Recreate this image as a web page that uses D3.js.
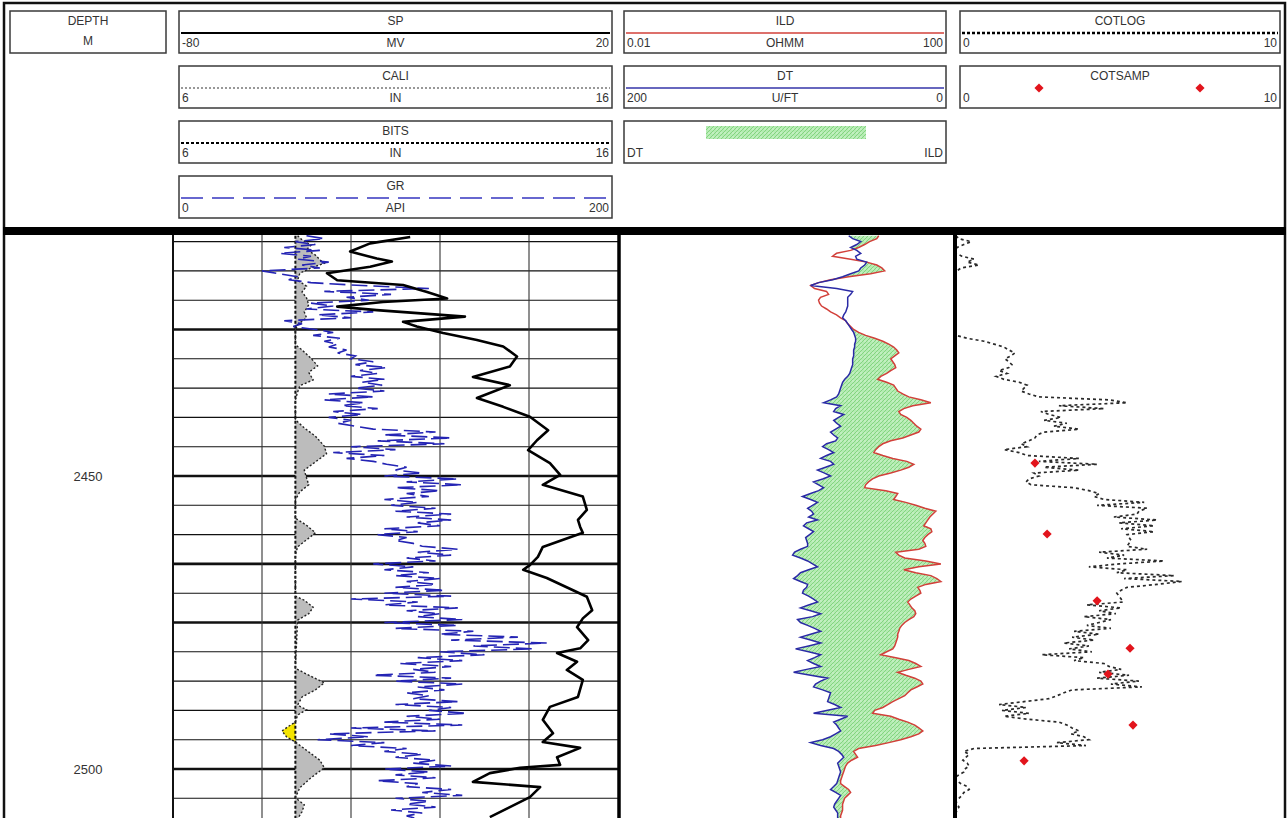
<!DOCTYPE html>
<html>
<head>
<meta charset="utf-8">
<script src="https://cdnjs.cloudflare.com/ajax/libs/d3/7.8.5/d3.min.js"></script>
<style>
body { margin:0; background:#fff; }
svg { display:block; }
text { font-family:"Liberation Sans", Arial, sans-serif; font-size:12px; fill:#333; }
</style>
</head>
<body>
<script>
// ---- curve scales (header) ----
var hdrNames = ["SP", "CALI", "BITS", "GR", "ILD", "DT", "COTLOG", "COTSAMP"];
var hdrUnits = ["MV", "IN", "IN", "API", "OHMM", "U/FT", "", ""];
var hdrLow   = ["-80", "6", "6", "0", "0.01", "200", "0", "0"];
var hdrHigh  = ["20", "16", "16", "200", "100", "0", "10", "10"];

var spScale = [-80, 20], caliScale = [6, 16], grScale = [0, 200];
var ildScale = [0.01, 100], dtScale = [200, 0], cotScale = [0, 10];

var depthLabels = [2450, 2500];
var heavyGrid = [2425, 2450, 2465, 2475, 2500];

// ---- log data ----
// SP (depth, mV)
var spLog = [[2409.2,-26.7],[2410.3,-35.7],[2411.7,-40.2],[2412.9,-34.2],[2413.4,-30.8],[2414.3,-35.7],[2415.4,-45.4],
 [2416.6,-43.1],[2417.4,-28.3],[2418.6,-22.9],[2419.7,-18.4],[2420.3,-32.8],[2421.1,-43.1],[2421.7,-34.2],[2422.8,-14.4],
 [2423.7,-28.3],[2424.5,-25.2],[2425.6,-19.3],[2426.8,-11.7],[2427.9,-5.8],[2429.6,-2.7],[2431.3,-4.3],[2433.1,-12.6],
 [2434.5,-4.3],[2436.7,-11.7],[2438.2,-5.8],[2439.9,0.2],[2442.2,4.3],[2443.9,1.8],[2445.6,-0.2],[2447.8,4.7],[2449.8,7.0],
 [2451.5,3.1],[2453.5,12.1],[2455.8,13.0],[2457.5,11.0],[2458.7,11.5],[2459.7,12.1],[2462.1,3.1],[2463.8,2.0],[2465.2,0.2],
 [2466.0,-1.3],[2467.4,4.0],[2469.5,9.9],[2470.6,13.0],[2472.9,14.2],[2474.3,12.1],[2475.8,10.8],[2478.0,13.3],[2479.4,11.5],
 [2480.2,6.3],[2481.7,10.8],[2483.1,8.5],[2484.8,12.1],[2487.7,11.0],[2489.4,4.7],[2491.6,3.1],[2493.9,5.4],[2495.4,3.1],
 [2496.4,11.5],[2498.0,6.3],[2499.3,7.0],[2499.8,-2.0],[2500.7,-8.8],[2502.2,-12.6],[2503.1,2.5],[2504.8,0.2],[2506.5,-4.3],
 [2508.2,-8.8]];

// CALI (depth, in)
var caliLog = [[2409.0,8.8],[2409.7,8.9],[2410.6,9.1],[2411.4,9.0],[2412.3,9.2],[2413.1,9.3],[2413.7,9.4],[2414.5,9.1],
 [2415.4,8.85],[2416.6,8.8],[2417.6,9.0],[2418.6,8.9],[2419.6,9.0],[2420.8,9.05],[2422.0,8.95],[2423.0,9.0],[2424.2,8.8],
 [2425.1,8.75],[2427.6,8.75],[2428.5,8.9],[2429.9,9.1],[2431.2,9.25],[2432.3,9.05],[2433.6,9.15],[2434.6,8.85],[2435.7,8.8],
 [2437.0,8.75],[2440.4,8.75],[2441.8,8.95],[2443.2,9.2],[2444.9,9.4],[2446.2,9.45],[2447.6,9.2],[2449.0,8.95],[2450.3,9.0],
 [2451.5,9.05],[2452.7,8.85],[2454.1,8.75],[2457.2,8.75],[2458.4,9.0],[2459.7,9.2],[2460.9,9.0],[2462.1,8.8],[2463.5,8.75],
 [2470.5,8.75],[2471.2,8.95],[2472.4,9.15],[2473.5,9.05],[2474.6,8.8],[2482.8,8.75],[2483.8,9.0],[2485.3,9.4],[2486.5,9.2],
 [2487.7,8.9],[2489.1,8.8],[2489.9,9.0],[2490.8,8.8],[2492.0,8.75],[2492.7,8.6],[2493.5,8.45],[2494.5,8.55],[2495.4,8.75],
 [2496.8,9.0],[2498.5,9.3],[2499.8,9.4],[2501.5,9.1],[2503.2,8.85],[2504.9,8.75],[2506.1,8.95],[2507.3,8.9],[2508.5,8.8]];

// BITS (depth, in)
var bitsLog = [[2409.0,8.75],[2508.5,8.75]];

// regularly sampled logs: first depth and sample step (m)
var sampleTop = 2409.0, sampleStep = 0.5;

var grLog = [
 60,68,55,64,50,66,48,62,56,70,  58,66,40,48,56,52,62,85,115,68,
 98,78,88,62,72,60,90,65,80,50,  58,54,64,72,63,75,68,74,70,78,
 74,82,80,90,82,96,84,92,80,95,  85,94,82,95,70,90,68,86,76,92,
 72,85,70,80,74,82,90,118,95,125, 92,122,80,100,72,95,78,90,96,105,
 100,112,95,128,105,130,100,120,105,115, 95,110,98,118,100,125,105,125,110,120,
 95,110,92,105,100,108,112,128,110,125, 105,118,90,108,95,115,100,120,105,118,
 100,122,95,125,80,110,95,128,105,120, 110,130,95,128,100,135,120,155,125,168,
 135,162,120,140,110,130,102,125,108,118, 90,125,100,130,110,122,105,115,108,128,
 100,125,115,132,105,120,95,130,80,118, 70,88,65,95,80,105,95,112,100,118,
 108,125,95,115,100,118,92,110,105,125, 112,130,100,115,105,118,98,112,105,110];

var ildLog = [
 13.3,12.6,10.3,8.98,7.59,6.07,4.10,3.67,6.07,9.5,
 12.6,14.5,15.7,10.6,5.74,3.47,2.48,1.99,2.22,3.10,
 3.28,2.62,2.48,2.55,2.70,3.10,3.47,4.10,4.59,5.28,
 5.58,6.07,6.60,7.59,9.24,11.9,14.9,17.6,20.2,22.0,
 23.3,20.8,18.6,19.7,20.8,21.4,18.6,16.6,14.1,12.9,
 16.6,20.2,21.4,22.6,26.0,30.8,43.1,57.0,34.4,26.8,
 23.3,24.6,29.1,32.6,35.4,38.5,43.1,40.7,32.6,26.0,
 18.6,14.9,13.3,12.2,11.6,14.9,19.7,29.1,35.4,30.8,
 24.6,18.6,13.3,11.2,10.0,9.24,8.98,16.2,22.6,21.4,
 20.2,28.3,37.4,48.2,65.5,60.3,55.4,52.4,49.5,46.8,
 57.0,58.6,52.4,48.2,45.5,48.2,49.5,40.7,21.4,23.3,
 27.5,49.5,75.4,40.7,26.8,37.4,57.0,67.4,75.4,49.5,
 39.6,41.9,43.1,37.4,32.6,29.9,31.7,33.5,36.4,37.4,
 35.4,30.8,27.5,25.3,23.9,23.3,22.6,22.6,22.0,21.4,
 20.8,19.7,16.6,14.1,21.4,30.8,37.4,43.1,30.8,22.6,
 28.3,36.4,43.1,45.5,38.5,32.6,29.9,27.5,23.3,19.7,
 17.1,14.9,11.9,11.2,18.6,23.3,29.9,36.4,40.7,45.5,
 40.7,32.6,24.6,17.6,12.2,7.59,6.60,6.98,7.38,6.24,
 5.58,5.28,5.13,4.99,4.85,4.72,4.59,4.59,5.13,5.74,
 6.07,5.58,5.13,4.99,4.85,4.85,4.85,4.72,4.59,4.59];

var dtLog = [
 62.0,59.6,54.7,57.1,60.8,57.1,54.7,57.8,57.1,51.1,
 52.3,54.7,55.9,60.8,65.7,71.7,80.2,85.1,69.3,59.6,
 60.8,62.6,62.6,62.6,62.6,63.2,63.8,65.0,65.7,63.8,
 62.6,61.4,60.2,59.0,58.4,57.8,57.8,58.4,58.4,59.0,
 59.0,59.0,59.6,59.6,59.6,60.2,60.8,61.4,62.6,64.4,
 65.7,66.3,66.9,67.5,68.1,69.3,73.0,77.2,66.9,69.9,
 71.1,65.0,68.1,71.1,69.3,66.9,69.9,73.0,71.1,68.7,
 69.9,75.4,77.8,74.2,71.1,75.4,79.0,73.0,71.1,76.0,
 80.9,76.6,73.0,77.8,83.3,80.2,77.2,80.2,85.1,90.0,
 85.1,80.9,83.9,86.9,84.5,83.3,86.3,80.9,87.5,89.4,
 86.3,83.3,85.7,88.1,87.5,86.9,86.9,91.2,94.8,96.0,
 91.2,86.9,83.9,80.9,86.3,91.2,93.0,95.4,91.2,86.9,
 87.5,89.4,90.0,86.3,83.3,80.9,86.3,91.2,85.1,79.0,
 83.9,93.0,91.2,86.9,82.7,79.0,85.1,91.2,85.1,79.0,
 86.3,94.2,86.3,79.0,82.7,86.9,83.3,79.0,87.5,95.4,
 85.1,74.8,79.0,82.1,83.3,77.8,73.0,73.6,74.2,74.8,
 70.5,66.9,75.4,83.3,62.6,66.9,71.1,69.3,68.1,66.9,
 69.9,73.0,77.8,85.1,79.0,71.1,68.1,66.3,65.0,66.9,
 68.7,68.1,67.5,66.9,67.5,68.1,68.7,69.3,71.1,73.0,
 69.9,66.9,68.1,69.3,70.5,71.1,69.9,68.7,68.7,68.7];

var cotlogLog = [
 0.06,0.15,0.52,0.30,0.09,0.06,0.06,0.24,0.61,0.40,
 0.76,0.21,0.09,0.03,0,0,0,0,0,0,
 0,0,0,0,0,0,0,0,0,0,
 0,0,0,0,0.06,0.40,0.91,1.22,1.52,1.67,
 1.85,1.73,1.55,1.67,1.76,1.67,1.37,1.61,1.28,1.52,
 1.98,2.22,2.13,2.04,2.28,2.58,4.71,5.26,3.19,4.56,
 2.64,2.89,3.25,2.74,3.43,3.04,3.80,2.74,2.52,2.46,
 2.28,2.04,2.22,1.52,1.98,2.22,3.80,2.58,4.35,2.74,
 3.80,2.43,2.58,2.28,2.19,2.34,3.65,4.10,4.41,4.26,
 4.56,5.78,4.35,5.87,5.62,5.56,4.86,6.17,5.02,6.08,
 5.08,6.08,5.26,5.32,5.38,5.32,5.26,5.87,4.41,5.17,
 4.65,6.38,5.02,4.10,5.26,4.95,6.69,5.17,6.93,6.17,
 5.26,5.08,4.95,5.02,5.08,5.14,4.04,5.08,4.41,4.92,
 3.95,4.77,4.41,4.04,4.77,3.65,4.41,3.59,4.26,3.34,
 4.10,3.50,4.19,2.67,3.95,3.65,4.56,4.71,5.08,4.41,
 5.32,4.35,5.62,4.77,5.71,3.59,3.34,3.13,2.89,2.13,
 1.37,2.19,1.46,2.28,1.52,2.22,3.19,3.43,3.59,3.80,
 3.56,3.95,4.10,3.13,4.01,0.61,0.30,0.46,0.36,0.27,
 0.40,0.46,0.33,0.30,0.15,0,0.09,0.21,0.40,0.46,
 0.30,0.24,0.15,0.06,0.09,0.15,0.09,0.06,0.03,0.03];

// COTSAMP core samples (depth, value)
var cotsampLog = [[2447.8,2.43],[2459.9,2.80],[2471.3,4.32],[2479.4,5.32],[2483.8,4.65],[2492.5,5.41],[2498.6,2.10]];

// ---- page ----
var W = 1288, H = 818;
var svg = d3.select("body").append("svg").attr("width", W).attr("height", H);

var defs = svg.append("defs");
var pat = defs.append("pattern").attr("id", "greenHatch")
	.attr("patternUnits", "userSpaceOnUse").attr("width", 4).attr("height", 4);
pat.append("rect").attr("width", 4).attr("height", 4).attr("fill", "#b4ecb2");
pat.append("path").attr("d", "M-1,1L1,-1M0,4L4,0M3,5L5,3")
	.attr("stroke", "#7fd17b").attr("stroke-width", 0.9);
pat.append("rect").attr("x", 0.5).attr("y", 0.5).attr("width", 1).attr("height", 1).attr("fill", "#ecfbea");

var plotTop = 235, plotBot = 818;
var trk1 = [173, 618], trk2 = [621, 951], trk3 = [955, 1284];

var y = d3.scaleLinear().domain([2450, 2500]).range([476, 769]);

var xSP = d3.scaleLinear().domain(spScale).range(trk1);
var xCALI = d3.scaleLinear().domain(caliScale).range(trk1);
var xGR = d3.scaleLinear().domain(grScale).range(trk1);
var xILD = d3.scaleLog().domain(ildScale).range(trk2);
var xDT = d3.scaleLinear().domain(dtScale).range(trk2);
var xCOT = d3.scaleLinear().domain(cotScale).range(trk3);

function depthAt(i) { return sampleTop + i * sampleStep; }

function clipFor(id, t) {
	defs.append("clipPath").attr("id", id).append("rect")
		.attr("x", t[0]).attr("y", plotTop).attr("width", t[1] - t[0]).attr("height", plotBot - plotTop);
	return svg.append("g").attr("clip-path", "url(#" + id + ")");
}

// ---- track 1: grid + SP / CALI / BITS / GR ----
var g1 = clipFor("c1", trk1);
var gridDepths = d3.range(2410, 2510, 5);
g1.selectAll(".hgrid").data(gridDepths).enter().append("line")
	.attr("x1", trk1[0]).attr("x2", trk1[1])
	.attr("y1", function(d){return y(d)}).attr("y2", function(d){return y(d)})
	.attr("stroke", "#111")
	.attr("stroke-width", function(d){return heavyGrid.indexOf(d) >= 0 ? 2.6 : 1.1});
g1.selectAll(".vgrid").data(d3.range(1, 5)).enter().append("line")
	.attr("x1", function(i){return trk1[0] + i * (trk1[1] - trk1[0]) / 5})
	.attr("x2", function(i){return trk1[0] + i * (trk1[1] - trk1[0]) / 5})
	.attr("y1", plotTop).attr("y2", plotBot)
	.attr("stroke", "#333").attr("stroke-width", 1.1);

var bitSize = bitsLog[0][1];
var caliWash = d3.area().y(function(d){return y(d[0])})
	.x0(xCALI(bitSize))
	.x1(function(d){return Math.max(xCALI(d[1]), xCALI(bitSize))});
var caliTight = d3.area().y(function(d){return y(d[0])})
	.x0(xCALI(bitSize))
	.x1(function(d){return Math.min(xCALI(d[1]), xCALI(bitSize))});
g1.append("path").attr("d", caliWash(caliLog)).attr("fill", "#bcbcbc");
g1.append("path").attr("d", caliTight(caliLog)).attr("fill", "#f4e400");

g1.append("path")
	.attr("d", d3.line().x(function(d){return xCALI(d[1])}).y(function(d){return y(d[0])})(bitsLog))
	.attr("fill", "none").attr("stroke", "#111").attr("stroke-width", 2).attr("stroke-dasharray", "3,2");
g1.append("path")
	.attr("d", d3.line().x(function(d){return xCALI(d[1])}).y(function(d){return y(d[0])})(caliLog))
	.attr("fill", "none").attr("stroke", "#222").attr("stroke-width", 1.4).attr("stroke-dasharray", "2,2");

g1.append("path")
	.attr("d", d3.line().x(function(d){return xGR(d)}).y(function(d, i){return y(depthAt(i))})(grLog))
	.attr("fill", "none").attr("stroke", "#2424b4").attr("stroke-width", 1.6)
	.attr("stroke-dasharray", "16,6");

g1.append("path")
	.attr("d", d3.line().x(function(d){return xSP(d[1])}).y(function(d){return y(d[0])})(spLog))
	.attr("fill", "none").attr("stroke", "#000").attr("stroke-width", 2.6)
	.attr("stroke-linejoin", "round");

// ---- track 2: ILD / DT with fill ----
var g2 = clipFor("c2", trk2);
var rows2 = ildLog.map(function(v, i){ return {d: depthAt(i), ild: v, dt: dtLog[i]}; });
g2.append("path")
	.attr("d", d3.area().y(function(r){return y(r.d)})
		.x0(function(r){return xDT(r.dt)})
		.x1(function(r){return Math.max(xDT(r.dt), xILD(r.ild))})(rows2))
	.attr("fill", "url(#greenHatch)");
g2.append("path")
	.attr("d", d3.line().x(function(r){return xILD(r.ild)}).y(function(r){return y(r.d)})(rows2))
	.attr("fill", "none").attr("stroke", "#d2403a").attr("stroke-width", 1.5);
g2.append("path")
	.attr("d", d3.line().x(function(r){return xDT(r.dt)}).y(function(r){return y(r.d)})(rows2))
	.attr("fill", "none").attr("stroke", "#2a2aa6").attr("stroke-width", 1.5);

// ---- track 3: COTLOG / COTSAMP ----
var g3 = clipFor("c3", [trk3[0] - 4, trk3[1]]);
g3.append("path")
	.attr("d", d3.line().x(function(d){return xCOT(d) - 1}).y(function(d, i){return y(depthAt(i))})(cotlogLog))
	.attr("fill", "none").attr("stroke", "#2a2a2a").attr("stroke-width", 1.7)
	.attr("stroke-dasharray", "3,3");
var diamond = d3.symbol().type(d3.symbolSquare).size(42);
g3.selectAll(".samp").data(cotsampLog).enter().append("path")
	.attr("d", diamond)
	.attr("transform", function(d){return "translate(" + xCOT(d[1]) + "," + y(d[0]) + ") rotate(45)"})
	.attr("fill", "#e2141c");

// ---- borders ----
svg.append("line").attr("x1", trk1[0]).attr("x2", trk1[0]).attr("y1", plotTop).attr("y2", plotBot)
	.attr("stroke", "#111").attr("stroke-width", 2);
svg.append("line").attr("x1", trk1[1] + 1).attr("x2", trk1[1] + 1).attr("y1", plotTop).attr("y2", plotBot)
	.attr("stroke", "#000").attr("stroke-width", 3.5);
svg.append("line").attr("x1", trk3[0]).attr("x2", trk3[0]).attr("y1", plotTop).attr("y2", plotBot)
	.attr("stroke", "#000").attr("stroke-width", 4);
svg.append("rect").attr("x", 4).attr("y", 3).attr("width", 1281).attr("height", H + 10)
	.attr("fill", "none").attr("stroke", "#111").attr("stroke-width", 2.5);
svg.append("rect").attr("x", 3).attr("y", 227).attr("width", 1283).attr("height", 8).attr("fill", "#000");

// depth labels
svg.selectAll(".dlab").data(depthLabels).enter().append("text")
	.attr("x", 88).attr("y", function(d){return y(d) + 5})
	.attr("text-anchor", "middle").style("font-size", "13px")
	.text(function(d){return d});

// ---- header ----
var rowTop = [11, 66, 121, 176];
var colX = [[179, 612], [624, 946], [960, 1280]];

function headBox(x0, x1, top, name, unit, lo, hi) {
	var g = svg.append("g");
	g.append("rect").attr("x", x0).attr("y", top).attr("width", x1 - x0).attr("height", 42)
		.attr("fill", "none").attr("stroke", "#3a3a3a").attr("stroke-width", 1.5);
	if (name) g.append("text").attr("x", (x0 + x1) / 2).attr("y", top + 14).attr("text-anchor", "middle").text(name);
	if (unit) g.append("text").attr("x", (x0 + x1) / 2).attr("y", top + 36).attr("text-anchor", "middle").text(unit);
	if (lo) g.append("text").attr("x", x0 + 3).attr("y", top + 36).text(lo);
	if (hi) g.append("text").attr("x", x1 - 3).attr("y", top + 36).attr("text-anchor", "end").text(hi);
	return g;
}
function sampleLine(g, x0, x1, yy, color, w, dash) {
	var l = g.append("line").attr("x1", x0 + 2).attr("x2", x1 - 2).attr("y1", yy).attr("y2", yy)
		.attr("stroke", color).attr("stroke-width", w);
	if (dash) l.attr("stroke-dasharray", dash);
}

// depth box
var dg = svg.append("g");
dg.append("rect").attr("x", 10).attr("y", 11).attr("width", 156).attr("height", 42)
	.attr("fill", "none").attr("stroke", "#3a3a3a").attr("stroke-width", 1.5);
dg.append("text").attr("x", 88).attr("y", 25).attr("text-anchor", "middle").text("DEPTH");
dg.append("text").attr("x", 88).attr("y", 45).attr("text-anchor", "middle").text("M");

// slot for each header curve: [column, row]
var slots = [[0,0],[0,1],[0,2],[0,3],[1,0],[1,1],[2,0],[2,1]];
var lineStyles = [
	["#000", 2, null], ["#333", 1.2, "2,2"], ["#000", 2, "3,2"], ["#3636c0", 1.5, "22,9"],
	["#d2403a", 1.5, null], ["#3434a8", 1.5, null], ["#000", 2.5, "3,2"], null];
hdrNames.forEach(function(n, i) {
	var c = colX[slots[i][0]], top = rowTop[slots[i][1]];
	var g = headBox(c[0], c[1], top, n, hdrUnits[i], hdrLow[i], hdrHigh[i]);
	var s = lineStyles[i];
	if (s) sampleLine(g, c[0], c[1], top + 22, s[0], s[1], s[2]);
	else {
		// legend symbols for the core samples
		g.selectAll(".legd").data([79, 240]).enter().append("path")
			.attr("d", diamond)
			.attr("transform", function(dx){return "translate(" + (c[0] + dx) + "," + (top + 22) + ") rotate(45)"})
			.attr("fill", "#e2141c");
	}
});

// fill legend box
var fg = headBox(colX[1][0], colX[1][1], rowTop[2], null, null, "DT", "ILD");
fg.append("rect").attr("x", 706).attr("y", 126).attr("width", 160).attr("height", 13).attr("fill", "url(#greenHatch)");
</script>
</body>
</html>
